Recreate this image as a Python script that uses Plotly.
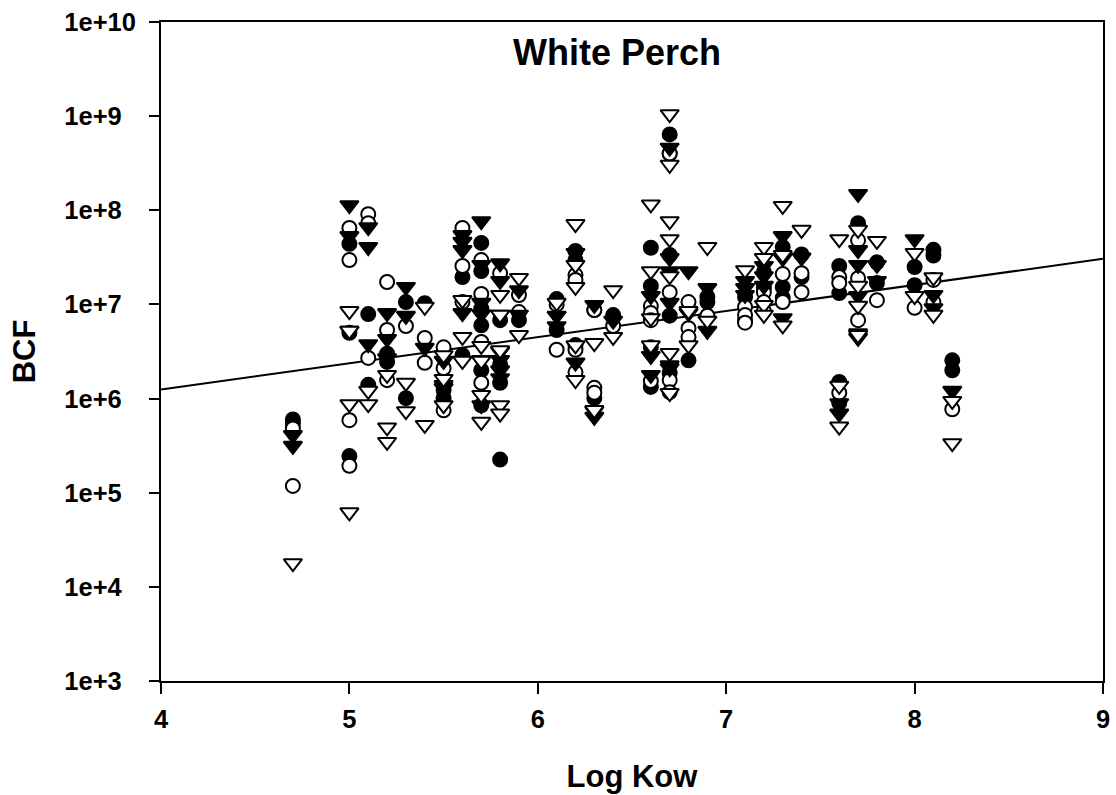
import plotly.graph_objects as go

filled_circle_x = [4.7,4.7,5.0,5.0,5.0,5.1,5.1,5.2,5.2,5.3,5.3,5.4,5.5,5.5,5.6,5.6,5.7,5.7,5.7,5.7,5.7,5.7,5.8,5.8,5.8,5.8,5.9,6.1,6.1,6.2,6.2,6.2,6.3,6.3,6.4,6.6,6.6,6.6,6.6,6.7,6.7,6.7,6.7,6.7,6.8,6.9,6.9,7.1,7.1,7.2,7.2,7.3,7.3,7.3,7.4,7.4,7.6,7.6,7.6,7.6,7.7,7.8,7.8,8.0,8.0,8.1,8.1,8.2,8.2]
filled_circle_y = [6e5,5.4e5,4.4e7,5e6,2.45e5,7.9e6,1.4e6,3e6,2.45e6,1.06e7,1.01e6,1.03e7,1.01e6,1.23e6,1.95e7,2.9e6,4.5e7,2.26e7,9e6,6e6,2e6,8.5e5,6.8e6,2.3e6,1.47e6,2.25e5,6.8e6,1.14e7,5.35e6,3.7e7,2.96e7,3.7e6,1.01e6,8.7e6,7.7e6,4e7,1.57e7,3.5e6,1.33e6,3.35e7,7.6e6,1.87e6,6.4e8,4e8,2.55e6,1.2e7,1.06e7,1.2e7,6.8e6,2.2e7,1.5e7,4.07e7,1.53e7,1.17e7,3.4e7,1.95e7,2.56e7,1.32e7,1.5e6,9e5,7.3e7,2.8e7,1.69e7,2.5e7,1.6e7,3.8e7,3.3e7,2.55e6,2e6]

open_circle_x = [4.7,4.7,5.0,5.0,5.0,5.0,5.1,5.1,5.1,5.2,5.2,5.2,5.3,5.4,5.4,5.5,5.5,5.5,5.6,5.6,5.6,5.7,5.7,5.7,5.7,5.8,5.9,5.9,6.1,6.1,6.2,6.2,6.2,6.2,6.3,6.3,6.3,6.4,6.6,6.6,6.6,6.6,6.7,6.7,6.7,6.7,6.8,6.8,6.8,6.9,7.1,7.1,7.1,7.2,7.2,7.2,7.3,7.3,7.4,7.4,7.6,7.6,7.6,7.7,7.7,7.7,7.8,8.0,8.1,8.1,8.2]
open_circle_y = [4.8e5,1.18e5,6.5e7,2.96e7,5.9e5,1.93e5,9.1e7,7.3e7,2.7e6,1.73e7,5.35e6,1.57e6,5.9e6,4.4e6,2.4e6,3.5e6,2.1e6,7.5e5,6.5e7,2.56e7,1.06e7,2.96e7,1.29e7,4e6,1.47e6,2.15e7,1.26e7,8.3e6,1e7,3.3e6,2.05e7,1.82e7,3.3e6,1.9e6,8.7e6,1.3e6,1.15e6,5.9e6,9.6e6,8.1e6,6.8e6,1.54e6,1.35e7,1.57e6,1.17e6,4e8,1.06e7,5.6e6,4.5e6,7.6e6,9.4e6,7.7e6,6.4e6,1.35e7,1.06e7,8.5e6,2.1e7,1.06e7,2.15e7,1.35e7,1.95e7,1.69e7,1.15e6,4.8e7,1.9e7,6.8e6,1.11e7,9.2e6,1.82e7,1.06e7,7.7e5]

filled_tri_x = [4.7,4.7,5.0,5.0,5.0,5.1,5.1,5.1,5.2,5.2,5.2,5.3,5.3,5.4,5.5,5.5,5.5,5.6,5.6,5.6,5.6,5.7,5.7,5.7,5.7,5.7,5.7,5.8,5.8,5.8,5.8,5.8,5.8,5.8,5.9,5.9,6.1,6.1,6.2,6.2,6.3,6.3,6.3,6.4,6.6,6.6,6.6,6.7,6.7,6.7,6.7,6.7,6.7,6.8,6.8,6.9,6.9,7.1,7.1,7.1,7.2,7.2,7.2,7.3,7.3,7.3,7.4,7.6,7.6,7.7,7.7,7.7,7.7,7.7,7.7,7.8,7.8,8.0,8.1,8.1,8.2]
filled_tri_y = [3.9e5,3e5,1.08e8,5.07e7,5e6,6.3e7,3.88e7,3.6e6,7.7e6,4.1e6,2.55e6,1.46e7,7.2e6,3.3e6,1.33e6,1.23e6,2.4e6,5.2e7,4.4e7,3.6e7,7.7e6,7.3e7,2.5e7,9.9e6,7.5e6,2.45e6,8.1e5,2.6e7,1.69e7,7.4e6,3e6,2.45e6,1.9e6,1.57e6,1.35e7,7.4e6,7.2e6,5.6e6,3.35e7,2.3e6,9.4e6,6.1e5,7e5,6.4e6,1.17e7,2.7e6,1.7e6,4.4e8,2.96e7,2.15e7,9.9e6,2.15e6,2e6,2.15e7,7.7e6,1.42e7,5e6,1.69e7,1.42e7,1.2e7,2.44e7,1.9e7,1.5e7,5.07e7,2.96e7,6.8e6,3e7,8.5e5,6.6e5,1.42e8,3.6e7,2.5e7,1.17e7,4.7e6,4.2e6,2.5e7,1.69e7,4.7e7,1.2e7,8.7e6,1.15e6]

open_tri_x = [4.7,5.0,5.0,5.0,5.0,5.1,5.1,5.2,5.2,5.2,5.3,5.3,5.4,5.4,5.5,5.5,5.5,5.6,5.6,5.6,5.7,5.7,5.7,5.7,5.8,5.8,5.8,5.8,5.8,5.9,5.9,6.1,6.2,6.2,6.2,6.2,6.2,6.3,6.3,6.4,6.4,6.6,6.6,6.6,6.6,6.7,6.7,6.7,6.7,6.7,6.7,6.7,6.8,6.8,6.9,6.9,7.1,7.2,7.2,7.2,7.2,7.3,7.3,7.3,7.4,7.6,7.6,7.6,7.7,7.7,7.7,7.7,7.8,8.0,8.0,8.1,8.1,8.2,8.2]
open_tri_y = [1.7e4,8.1e6,5e6,8.3e5,5.9e4,1.15e6,8.3e5,1.7e6,4.7e5,3.3e5,1.4e6,7e5,9e6,5e5,2.75e6,1.54e6,8.1e5,1.06e7,4.3e6,2.4e6,3.45e6,2.4e6,1.04e6,5.4e5,1.2e7,7.4e6,3.1e6,8.1e5,6.6e5,1.82e7,4.5e6,9.9e6,6.8e7,2.5e7,1.46e7,3.5e6,1.5e6,7.2e5,3.7e6,1.35e7,4.3e6,1.1e8,2.15e7,6.8e6,3.5e6,1e9,2.9e8,7.3e7,4.7e7,1.9e7,2.9e6,1.09e6,8.1e6,3.5e6,3.88e7,6.4e6,2.2e7,3.88e7,2.96e7,9.4e6,7.4e6,1.06e8,3.2e7,5.7e6,5.9e7,4.7e7,1.3e6,4.8e5,5.9e7,1.5e7,9.2e6,4.5e6,4.5e7,3.35e7,1.17e7,1.85e7,7.4e6,9e5,3.2e5]

fit_x = [4, 9]
fit_y = [1.25e6, 3.05e7]

x_ticks = [4, 5, 6, 7, 8, 9]
y_ticks = [1e3, 1e4, 1e5, 1e6, 1e7, 1e8, 1e9, 1e10]
y_tick_labels = ["1e+3\u2007", "1e+4\u2007", "1e+5\u2007", "1e+6\u2007", "1e+7\u2007", "1e+8\u2007", "1e+9\u2007", "1e+10"]

# plotly's triangle sits below its anchor; this lifts it so its middle is on the value
TRI_LIFT = 1.05

FONT = "Liberation Sans"
fig = go.Figure()
fig.add_trace(go.Scatter(x=fit_x, y=fit_y, mode="lines", line=dict(color="black", width=2)))


def pts(x, y, symbol, fill, size):
    fig.add_trace(go.Scatter(
        x=x, y=y, mode="markers", cliponaxis=False,
        marker=dict(symbol=symbol, size=size, color=fill, line=dict(color="black", width=2)),
    ))


pts(filled_circle_x, filled_circle_y, "circle", "black", 14)
pts(open_circle_x, open_circle_y, "circle", "white", 14)
pts(filled_tri_x, [v * TRI_LIFT for v in filled_tri_y], "triangle-down", "black", 16)
pts(open_tri_x, [v * TRI_LIFT for v in open_tri_y], "triangle-down", "white", 16)

tickfont = dict(family=FONT, size=25.5, color="black")
titlefont = dict(family=FONT, size=31, color="black")
fig.update_layout(
    width=1116, height=795, showlegend=False,
    paper_bgcolor="white", plot_bgcolor="white",
    margin=dict(l=161, r=13, t=22, b=114),
    font=dict(family=FONT),
    xaxis=dict(range=[4, 9], tickvals=x_ticks, ticktext=[f"<b>{v}</b>" for v in x_ticks],
               ticks="outside", ticklen=11, tickwidth=2, tickcolor="black",
               showline=True, linewidth=2, linecolor="black", mirror=True,
               showgrid=False, zeroline=False, tickfont=tickfont, ticklabelstandoff=3,
               ticklabeloverflow="allow", automargin=False,
               title=dict(text="<b>Log Kow</b>", font=titlefont, standoff=34)),
    yaxis=dict(type="log", range=[3, 10], tickvals=y_ticks,
               ticktext=[f"<b>{t}</b>" for t in y_tick_labels],
               ticks="outside", ticklen=10, tickwidth=2, tickcolor="black",
               showline=True, linewidth=2, linecolor="black", mirror=True,
               showgrid=False, zeroline=False, tickfont=tickfont, ticklabelstandoff=8,
               ticklabeloverflow="allow", automargin=False,
               title=dict(text="<b>BCF</b>", font=titlefont, standoff=19)),
    annotations=[dict(text="<b>White Perch</b>", xref="paper", yref="paper", x=0.4838, y=0.953,
                      xanchor="center", yanchor="middle", showarrow=False,
                      font=dict(family=FONT, size=36, color="black"))],
)
fig.write_html("out.html", config={"displayModeBar": False}, post_script="document.body.style.margin='0';")
